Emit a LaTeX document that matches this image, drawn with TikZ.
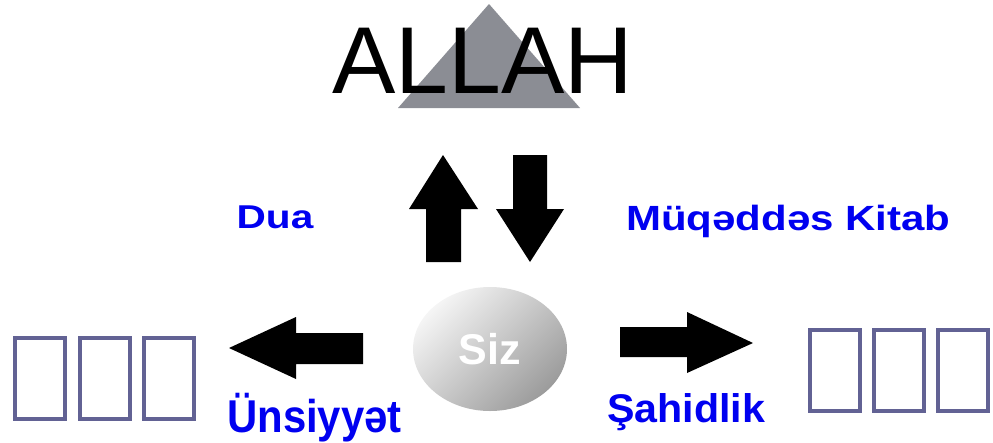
\documentclass[tikz,border=0pt]{standalone}
\usepackage{fontspec}
\setmainfont{Liberation Sans}
\usepackage{graphicx}
\usetikzlibrary{shapes.geometric}
\definecolor{peakgray}{RGB}{139,141,148}
\definecolor{wordblue}{RGB}{0,0,240}
\definecolor{boxline}{RGB}{98,98,148}

\begin{document}
\begin{tikzpicture}[x=1pt,y=-1pt]
  \tikzstyle{every node}=[inner sep=0pt]
  \tikzstyle{blue word}=[text=wordblue,anchor=base]
  \tikzstyle{block arrow}=[fill=black]
  \tikzstyle{glyph box}=[draw=boxline,line width=4pt,minimum width=50pt,minimum height=81pt]
  \useasboundingbox (0,0) rectangle (993,442);

  % top
  \fill[peakgray] (398,108) -- (489,4) -- (580,108) -- cycle;
  \node[anchor=base,font=\fontsize{95}{95}\selectfont] (god) at (482.5,93) {ALLAH};

  % up and down
  \fill[block arrow] (443,155) -- (478,209) -- (461,209) -- (461,262) -- (426,262) -- (426,209) -- (409,209) -- cycle;
  \fill[block arrow] (513,155) -- (547,155) -- (547,209) -- (564,209) -- (530,262) -- (496,209) -- (513,209) -- cycle;
  \node[blue word,font=\fontsize{33}{33}\selectfont\bfseries] (dua) at (275,228) {\scalebox{1.23}[1]{Dua}};
  \node[blue word,font=\fontsize{35}{35}\selectfont\bfseries] (bible) at (788.5,230) {\scalebox{1.2}[1]{Müqəddəs Kitab}};

  % you
  \node[ellipse,minimum width=154pt,minimum height=124pt,top color=gray!8,bottom color=gray!78,shading angle=45,
        text=white,font=\fontsize{43}{43}\selectfont\bfseries] (you) at (490,349) {Siz};

  % left and right
  \fill[block arrow] (229,348) -- (296,317) -- (296,333) -- (363,333) -- (363,364) -- (296,364) -- (296,379) -- cycle;
  \fill[block arrow] (620,327) -- (687,327) -- (687,312) -- (753,343) -- (687,373) -- (687,357) -- (620,357) -- cycle;
  \node[blue word,font=\fontsize{46}{46}\selectfont\bfseries] (fellowship) at (314.5,432) {\scalebox{0.91}[1]{Ünsiyyət}};
  \node[blue word,font=\fontsize{40}{40}\selectfont\bfseries] (witness) at (686,422) {\scalebox{1.03}[1]{Şahidlik}};

  % missing glyphs
  \foreach \bx in {40,104.5,169}
    \node[glyph box] at (\bx,378.5) {};
  \foreach \bx in {834.5,898.5,962.5}
    \node[glyph box] at (\bx,370.5) {};
\end{tikzpicture}
\end{document}
